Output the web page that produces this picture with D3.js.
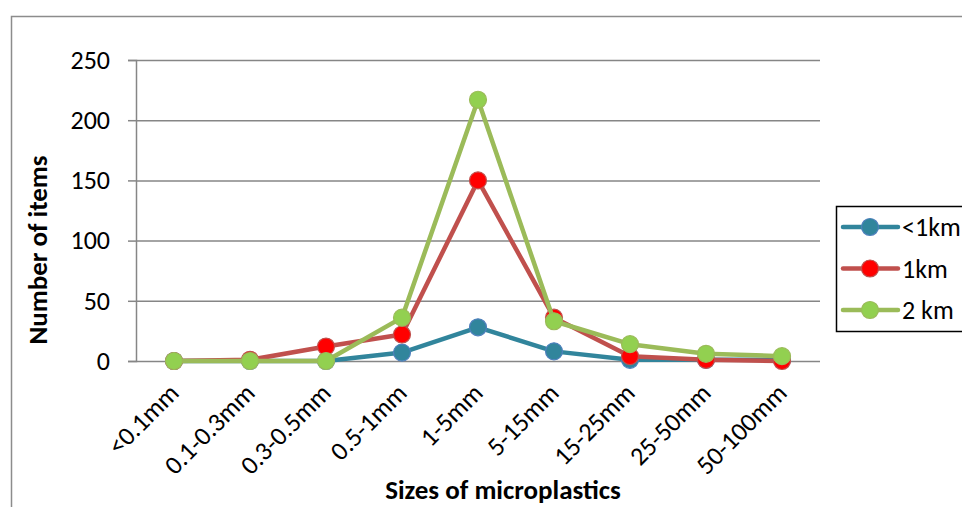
<!DOCTYPE html>
<html><head><meta charset="utf-8">
<script src="https://cdn.jsdelivr.net/npm/d3@7"></script>
<style>
html,body{margin:0;padding:0;background:#fff;overflow:hidden;}
text{font-family:Carlito,Calibri,Lato,sans-serif;}
</style></head>
<body>
<svg id="chart" width="962" height="507"></svg>
<script>
const categories = ["<0.1mm","0.1-0.3mm","0.3-0.5mm","0.5-1mm","1-5mm","5-15mm","15-25mm","25-50mm","50-100mm"];
const seriesNames = ["<1km","1km","2 km"];
const valuesLt1km = [0,0,0,7,28,8,1,1,1];
const values1km = [0,1,12,22,150,36,4,1,0];
const values2km = [0,0,0,36,217,33,14,6,4];
const yTicks = [0,50,100,150,200,250];

const series = [
  {name: seriesNames[0], values: valuesLt1km, line:"#31859C", fill:"#31859C", stroke:"#4F81BD"},
  {name: seriesNames[1], values: values1km, line:"#C0504D", fill:"#FF0000", stroke:"#C0504D"},
  {name: seriesNames[2], values: values2km, line:"#9BBB59", fill:"#92D050", stroke:"#9BBB59"}
];

const svg = d3.select("#chart");
const pLeft = 136, pRight = 820, pTop = 60, pBottom = 361;
const fs = 26, fsb = 27;

// outer frame
svg.append("path").attr("d","M11.5,520 V16.5 H970")
  .attr("fill","none").attr("stroke","#8c8c8c").attr("stroke-width",1.5);

const x = d3.scaleBand().domain(categories).range([pLeft,pRight]);
const y = d3.scaleLinear().domain([0,250]).range([pBottom,pTop]);

// gridlines + y ticks
const yAxis = d3.axisLeft(y).tickValues(yTicks).tickSize(8).tickPadding(18);
const gy = svg.append("g").attr("transform",`translate(${pLeft},0)`).call(yAxis);
gy.attr("font-family",null);
gy.select(".domain").attr("stroke","#868686").attr("stroke-width",1.5);
gy.selectAll(".tick line").attr("stroke","#868686").attr("stroke-width",1.5);
gy.selectAll(".tick text").attr("font-size",fs).attr("fill","#000");
gy.selectAll(".tick").append("line").attr("x1",0).attr("x2",pRight-pLeft)
  .attr("stroke","#868686").attr("stroke-width",1.5);

// x labels
const gx = svg.append("g");
gx.selectAll("text").data(categories).join("text")
  .attr("transform", d => `translate(${x(d)+x.bandwidth()/2},388) rotate(-45)`)
  .attr("text-anchor","end").attr("dy","0.35em")
  .attr("font-size",fs).attr("fill","#000").text(d=>d);

// axis titles
svg.append("text").attr("transform","translate(47,250) rotate(-90)")
  .attr("text-anchor","middle").attr("font-size",fsb).attr("font-weight","bold").text("Number of items");
svg.append("text").attr("x",503).attr("y",499)
  .attr("text-anchor","middle").attr("font-size",fsb).attr("font-weight","bold").text("Sizes of microplastics");

// lines
const line = d3.line().x((d,i)=>x(categories[i])+x.bandwidth()/2).y(d=>y(d));
series.forEach(s=>{
  const g = svg.append("g");
  g.append("path").attr("d",line(s.values)).attr("fill","none")
    .attr("stroke",s.line).attr("stroke-width",4.5).attr("stroke-linejoin","round");
  g.selectAll("circle").data(s.values).join("circle")
    .attr("cx",(d,i)=>x(categories[i])+x.bandwidth()/2).attr("cy",d=>y(d))
    .attr("r",8.5).attr("fill",s.fill).attr("stroke",s.stroke).attr("stroke-width",1.2);
});

// legend
const lg = svg.append("g");
lg.append("rect").attr("x",836.5).attr("y",206.5).attr("width",140).attr("height",125)
  .attr("fill","#fff").attr("stroke","#000").attr("stroke-width",1.5);
series.forEach((s,i)=>{
  const cy = 227 + i*41.5;
  lg.append("line").attr("x1",843).attr("x2",898).attr("y1",cy).attr("y2",cy)
    .attr("stroke",s.line).attr("stroke-width",4.5).attr("stroke-linecap","round");
  lg.append("circle").attr("cx",870).attr("cy",cy).attr("r",8.5)
    .attr("fill",s.fill).attr("stroke",s.stroke).attr("stroke-width",1.2);
  lg.append("text").attr("x",902).attr("y",cy).attr("dy","0.35em")
    .attr("font-size",fs).attr("fill","#000").text(s.name);
});
</script>
</body></html>
